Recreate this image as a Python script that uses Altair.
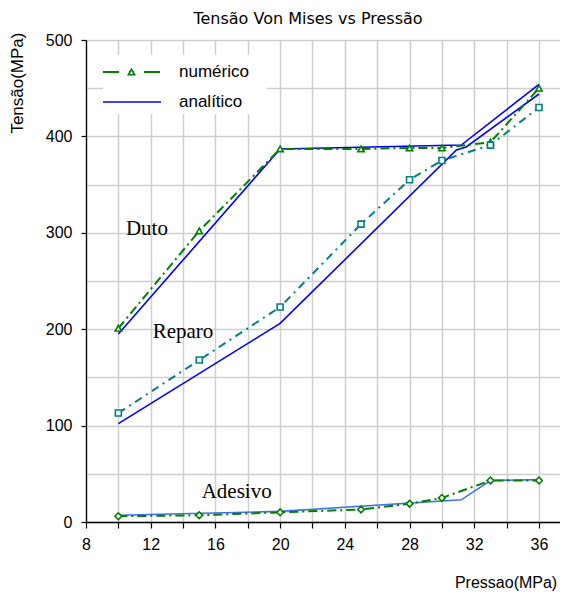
import altair as alt
import pandas as pd

# ---------------- data ----------------
pressao_num = [10, 15, 20, 25, 28, 30, 33, 36]
duto_num = [201, 302, 387, 387, 388, 388, 394, 450]
reparo_num = [113, 168, 223, 309, 355, 375, 391, 430]
adesivo_num = [6, 7, 10, 13, 19, 25, 43, 43]

duto_ana_x = [10, 20, 31.2, 36]
duto_ana_y = [195, 387, 391, 454]
reparo_ana_x = [10, 20, 30.9, 31.5, 36]
reparo_ana_y = [102, 206, 386, 389, 444]
adesivo_ana_x = [10, 20, 31.2, 33, 36]
adesivo_ana_y = [7, 11, 23, 43, 44]

ann_labels = ["Duto", "Reparo", "Adesivo"]
ann_x = [10.47, 12.12, 15.15]
ann_y = [298, 191, 25]

legend_labels = ["numérico", "analítico"]

x_ticks = list(range(8, 38, 2))
y_ticks = list(range(0, 501, 50))

# ---------------- styles ----------------
SANS = "Liberation Sans"
SERIF = "Liberation Serif"
GREEN = "#008000"
TEAL = "#008080"
BLUE = "#0000ff"
BLUE2 = "#4070f0"

xs = alt.Scale(domain=[8, 37.3], nice=False, zero=False)
ys = alt.Scale(domain=[0, 500], nice=False, zero=False)

xaxis = alt.Axis(
    values=x_ticks,
    labelExpr="datum.value % 4 === 0 ? datum.label : ''",
    tickSize=6,
    labelPadding=8,
    labelFlush=False,
    title="Pressao(MPa)",
    titleX=470.7,
    titleY=65,
    titleAlign="right",
    titleBaseline="alphabetic",
    titleAnchor="end",
)
yaxis = alt.Axis(
    values=y_ticks,
    labelExpr="datum.value % 100 === 0 ? datum.label : ''",
    tickSize=5,
    tickOpacity={"condition": {"test": "datum.value % 100 !== 0", "value": 0}, "value": 1},
    labelPadding=9,
    title="Tensão(MPa)",
    titleFontSize=17,
    titleX=-68.5,
    titleY=-8,
    titleAlign="right",
    titleBaseline="middle",
    titleAngle=270,
)

X = alt.X("x:Q", scale=xs, axis=xaxis)
Y = alt.Y("y:Q", scale=ys, axis=yaxis)


def df(xv, yv):
    return pd.DataFrame({"x": xv, "y": yv})


def ana_line(xv, yv, color):
    return alt.Chart(df(xv, yv)).mark_line(color=color, strokeWidth=1.6).encode(x=X, y=Y)


def num_line(yv, color, dash, shape, size):
    d = df(pressao_num, yv)
    line = alt.Chart(d).mark_line(color=color, strokeWidth=2, strokeDash=dash).encode(x=X, y=Y)
    pts = alt.Chart(d).mark_point(
        shape=shape, size=size, filled=False, color=color, fill="white",
        fillOpacity=1, strokeWidth=1.6, opacity=1
    ).encode(x=X, y=Y)
    return line, pts


duto_a = ana_line(duto_ana_x, duto_ana_y, BLUE)
reparo_a = ana_line(reparo_ana_x, reparo_ana_y, BLUE)
adesivo_a = ana_line(adesivo_ana_x, adesivo_ana_y, BLUE2)

duto_l, duto_p = num_line(duto_num, GREEN, [9, 4, 2, 4], "triangle-up", 40)
reparo_l, reparo_p = num_line(reparo_num, TEAL, [8, 5, 2, 5], "square", 36)
adesivo_l, adesivo_p = num_line(adesivo_num, GREEN, [9, 4, 2, 4], "diamond", 45)

ann = alt.Chart(pd.DataFrame({"x": ann_x, "y": ann_y, "t": ann_labels})).mark_text(
    font=SERIF, fontSize=21, align="left", baseline="alphabetic", color="black"
).encode(x=X, y=Y, text="t:N")

# ---------------- legend (decoration) ----------------
one = pd.DataFrame({"a": [0]})
leg_bg = alt.Chart(one).mark_rect(fill="white").encode(
    x=alt.value(17), x2=alt.value(181), y=alt.value(15), y2=alt.value(74)
)
leg_l1 = alt.Chart(one).mark_rule(color=GREEN, strokeWidth=2, strokeDash=[16, 10, 5, 10]).encode(
    x=alt.value(17), x2=alt.value(75), y=alt.value(32)
)
leg_p1 = alt.Chart(one).mark_point(
    shape="triangle-up", size=40, filled=False, color=GREEN, fill="white", fillOpacity=1, strokeWidth=1.6
).encode(x=alt.value(45.5), y=alt.value(32))
leg_l2 = alt.Chart(one).mark_rule(color=BLUE, strokeWidth=1.6).encode(
    x=alt.value(17), x2=alt.value(75), y=alt.value(62)
)
leg_t1 = alt.Chart(pd.DataFrame({"t": [legend_labels[0]]})).mark_text(
    font=SANS, fontSize=17, align="left", baseline="middle", color="black"
).encode(x=alt.value(93), y=alt.value(32), text="t:N")
leg_t2 = alt.Chart(pd.DataFrame({"t": [legend_labels[1]]})).mark_text(
    font=SANS, fontSize=17, align="left", baseline="middle", color="black"
).encode(x=alt.value(93), y=alt.value(62), text="t:N")

chart = alt.layer(
    duto_a, reparo_a, adesivo_a,
    duto_l, reparo_l, adesivo_l,
    duto_p, reparo_p, adesivo_p,
    ann,
    leg_bg, leg_l1, leg_p1, leg_l2, leg_t1, leg_t2,
).properties(
    width=474,
    height=482,
    background="white",
    title=alt.TitleParams(
        "Tensão Von Mises vs Pressão", font="DejaVu Sans", fontSize=16,
        fontWeight="normal", anchor="middle", dx=-15, dy=19, offset=11,
        baseline="alphabetic", color="black"
    ),
    autosize=alt.AutoSizeParams(type="none"),
    padding={"left": 78, "top": 32, "right": 0, "bottom": 70},
).configure_view(
    stroke=None
).configure_axis(
    domainColor="black",
    domainWidth=1.3,
    tickColor="black",
    tickWidth=1.2,
    labelFont=SANS,
    labelFontSize=16,
    labelColor="black",
    titleFont=SANS,
    titleFontSize=16,
    titleFontWeight="normal",
    titleColor="black",
    gridColor="#cfcfcf",
    gridWidth=1.5,
    grid=True,
)

chart.save("out.html", embed_options={"renderer": "svg", "actions": False})
